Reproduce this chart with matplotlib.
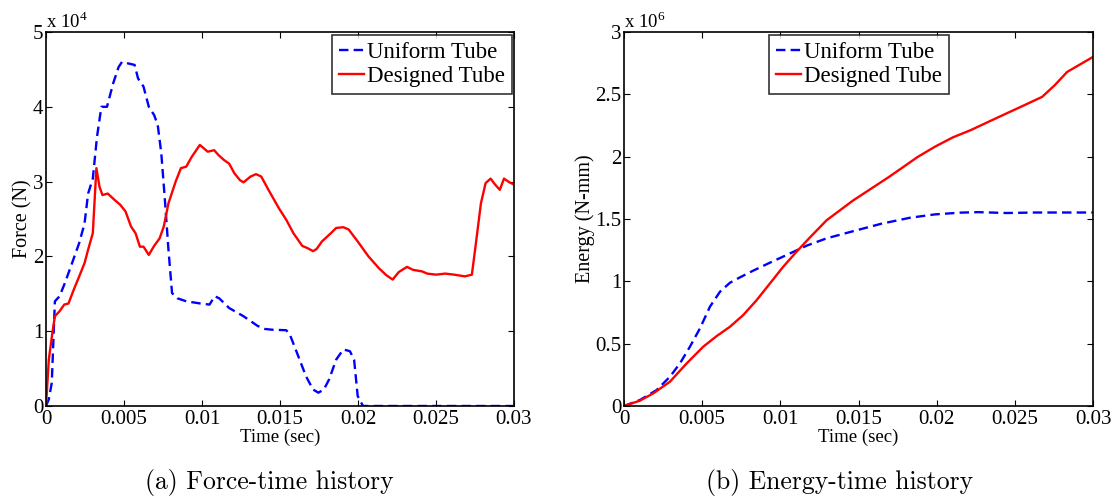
import matplotlib
matplotlib.use('Agg')
import matplotlib.pyplot as plt
import numpy as np

plt.rcParams['font.family'] = 'Liberation Serif'
plt.rcParams['mathtext.fontset'] = 'custom'
plt.rcParams['mathtext.rm'] = 'Liberation Serif'

# Force-time history (t in sec, F in N)
t_uni_f = [0, 0.00018, 0.00037, 0.00057, 0.00087, 0.00121, 0.00167, 0.00213, 0.00247, 0.0027, 0.003,
           0.00327, 0.00355, 0.00391, 0.0043, 0.00465, 0.00487, 0.00526, 0.00568, 0.0059, 0.00625,
           0.00659, 0.00693, 0.00716, 0.00739, 0.00762, 0.00785, 0.00808, 0.00842, 0.00899, 0.00991,
           0.01048, 0.01082, 0.0111, 0.01174, 0.01266, 0.01357, 0.01403, 0.01449, 0.0154, 0.01563,
           0.01609, 0.01666, 0.01712, 0.01746, 0.01781, 0.01815, 0.0186, 0.01906, 0.01948, 0.01975,
           0.01998, 0.02032, 0.025, 0.03]
f_uni = [0, 900, 3100, 14000, 14670, 16440, 19100, 21800, 24400, 28400, 30400,
         36000, 40000, 40000, 43100, 45300, 46000, 45800, 45600, 43800, 42700,
         40000, 38900, 37600, 33800, 27600, 20900, 15100, 14400, 14000, 13700,
         13560, 14670, 14400, 13100, 12000, 10700, 10300, 10200, 10130, 9560,
         7100, 4000, 2200, 1780, 2200, 3560, 6200, 7560, 7330, 6200,
         1330, 0, 0, 0]

t_des_f = [0, 0.00018, 0.00041, 0.00057, 0.00087, 0.00117, 0.00144, 0.00178, 0.00213, 0.00247, 0.0027,
           0.003, 0.00323, 0.00343, 0.00362, 0.00396, 0.00437, 0.00476, 0.0051, 0.00545, 0.00574,
           0.00602, 0.00625, 0.00659, 0.00693, 0.00728, 0.00755, 0.00785, 0.00831, 0.00865, 0.00899,
           0.00934, 0.00986, 0.01037, 0.01078, 0.01105, 0.0114, 0.01174, 0.01208, 0.01243, 0.01266,
           0.01311, 0.01346, 0.0138, 0.01426, 0.01494, 0.0154, 0.01586, 0.01643, 0.01677, 0.01712,
           0.01735, 0.01769, 0.01826, 0.0186, 0.01906, 0.0194, 0.01998, 0.02067, 0.02135, 0.02181,
           0.02222, 0.02261, 0.02314, 0.02353, 0.0241, 0.02444, 0.02501, 0.02559, 0.02616, 0.02685,
           0.0273, 0.02753, 0.02788, 0.02818, 0.0285, 0.02879, 0.02909, 0.02936, 0.02971, 0.03]
f_des = [0, 6200, 9800, 12000, 12670, 13560, 13700, 15560, 17330, 19100, 20900,
         23100, 31800, 29300, 28200, 28400, 27600, 26900, 26000, 24000, 23100,
         21300, 21300, 20200, 21400, 22400, 24000, 27100, 30000, 31800, 32000,
         33300, 34900, 34000, 34200, 33560, 32900, 32400, 31100, 30200, 29900,
         30670, 31000, 30670, 28900, 26400, 24900, 23100, 21400, 21100, 20700,
         21000, 22000, 23100, 23800, 23900, 23600, 22000, 20000, 18400, 17500,
         16900, 17900, 18600, 18200, 18000, 17700, 17560, 17700, 17560, 17330,
         17560, 21300, 27100, 29800, 30400, 29600, 28900, 30400, 29900, 29600]

# Energy-time history (t in sec, E in N-mm)
t_uni_e = [0, 0.00102, 0.00209, 0.00294, 0.00358, 0.00422, 0.00486, 0.0055, 0.00614, 0.00678,
           0.00742, 0.00827, 0.00934, 0.0104, 0.01168, 0.01296, 0.0151, 0.01646, 0.01829,
           0.01989, 0.0215, 0.02264, 0.02447, 0.0263, 0.03]
e_uni = [0, 48000, 128000, 235000, 342000, 476000, 623000, 797000, 917000, 989000,
         1032000, 1086000, 1150000, 1211000, 1286000, 1345000, 1417000, 1462000, 1510000,
         1537000, 1551000, 1555000, 1548000, 1552000, 1552000]

t_des_e = [0, 0.00102, 0.00188, 0.00294, 0.00401, 0.00507, 0.00593, 0.00678, 0.00763, 0.00849,
           0.00934, 0.01019, 0.01104, 0.0119, 0.01296, 0.01467, 0.01601, 0.01692, 0.01784,
           0.01875, 0.01989, 0.02104, 0.02218, 0.02332, 0.02447, 0.02561, 0.02675, 0.02755,
           0.02835, 0.03]
e_des = [0, 43000, 102000, 195000, 342000, 476000, 561000, 636000, 730000, 850000,
         984000, 1118000, 1238000, 1353000, 1490000, 1650000, 1760000, 1835000, 1915000,
         1995000, 2080000, 2155000, 2213000, 2280000, 2347000, 2413000, 2480000, 2573000,
         2680000, 2800000]

x_ticks = [0, 0.005, 0.01, 0.015, 0.02, 0.025, 0.03]
x_ticklabels = ['0', '0.005', '0.01', '0.015', '0.02', '0.025', '0.03']
f_ticks = [0, 1, 2, 3, 4, 5]
e_ticks = [0, 0.5, 1, 1.5, 2, 2.5, 3]
e_ticklabels = ['0', '0.5', '1', '1.5', '2', '2.5', '3']

fig = plt.figure(figsize=(11.2, 4.99), dpi=100)
ax1 = fig.add_axes([46/1120, 93/499, 468/1120, 374/499])
ax2 = fig.add_axes([624/1120, 93/499, 469/1120, 374/499])

dash = (0, (4, 2.2))
lw = 1.7

ax1.plot(np.array(t_uni_f), np.array(f_uni)/1e4, color='#0000ff', lw=lw, linestyle=dash, label='Uniform Tube')
ax1.plot(np.array(t_des_f), np.array(f_des)/1e4, color='#ff0000', lw=lw, label='Designed Tube')
ax1.set_ylim(0, 5)
ax1.set_yticks(f_ticks)
ax1.set_yticklabels([str(v) for v in f_ticks])
ax1.set_ylabel('Force (N)', fontsize=14.5, labelpad=0)
ax1.text(0.0, 1.0, r'x 10$^{4}$', transform=ax1.transAxes, fontsize=13.5, ha='left', va='bottom')

ax2.plot(np.array(t_uni_e), np.array(e_uni)/1e6, color='#0000ff', lw=lw, linestyle=dash, label='Uniform Tube')
ax2.plot(np.array(t_des_e), np.array(e_des)/1e6, color='#ff0000', lw=lw, label='Designed Tube')
ax2.set_ylim(0, 3)
ax2.set_yticks(e_ticks)
ax2.set_yticklabels(e_ticklabels)
ax2.set_ylabel('Energy (N-mm)', fontsize=14.5, labelpad=0)
ax2.text(0.0, 1.0, r'x 10$^{6}$', transform=ax2.transAxes, fontsize=13.5, ha='left', va='bottom')

for ax in (ax1, ax2):
    ax.set_xlim(0, 0.03)
    ax.set_xticks(x_ticks)
    ax.set_xticklabels(x_ticklabels)
    ax.set_xlabel('Time (sec)', fontsize=13.5, labelpad=0)
    ax.tick_params(direction='in', top=True, right=True, labelsize=15, length=4.5, width=0.8, pad=2)
    ax.tick_params(axis='x', pad=3)
    for s in ax.spines.values():
        s.set_linewidth(1.2)

leg_kw = dict(fontsize=16.5, frameon=True, fancybox=False, edgecolor='black', borderpad=0.3,
              handlelength=1.1, handletextpad=0.15, labelspacing=0.12, borderaxespad=0,
              bbox_transform=fig.transFigure)
leg1 = ax1.legend(loc='upper right', bbox_to_anchor=(512/1120, 1 - 35/499), **leg_kw)
leg1.get_frame().set_linewidth(1.2)
leg2 = ax2.legend(loc='upper center', bbox_to_anchor=(859/1120, 1 - 35/499), **leg_kw)
leg2.get_frame().set_linewidth(1.2)

fig.text(269/1120, 1 - 482/499, '(a) Force-time history', fontsize=18.5, fontname='cmr10', ha='center', va='center')
fig.text(840/1120, 1 - 482/499, '(b) Energy-time history', fontsize=18.5, fontname='cmr10', ha='center', va='center')

fig.savefig('out.png', dpi=100)
